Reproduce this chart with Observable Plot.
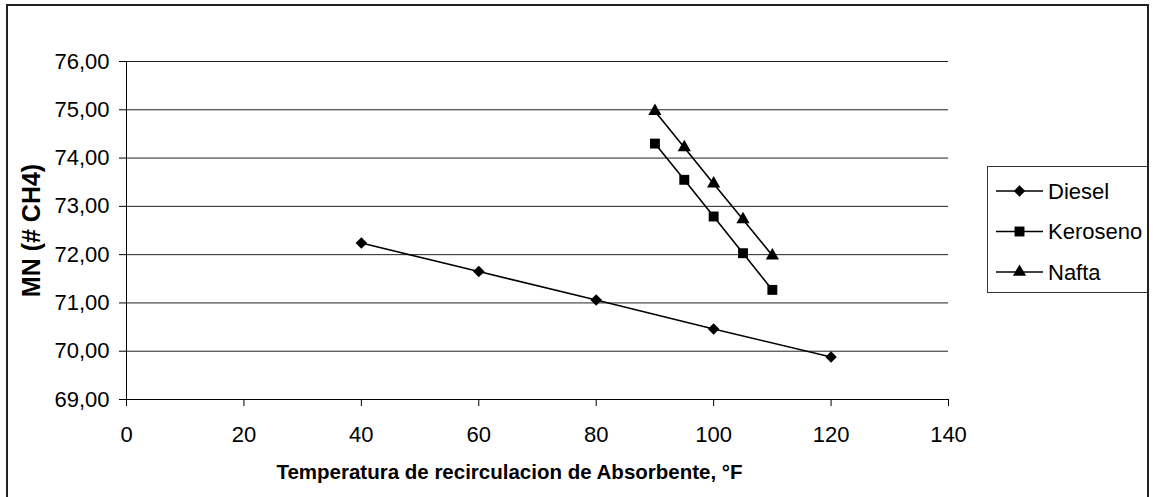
<!DOCTYPE html>
<html><head><meta charset="utf-8">
<script src="https://cdn.jsdelivr.net/npm/d3@7"></script>
<script src="https://cdn.jsdelivr.net/npm/@observablehq/plot@0.6"></script>
<style>
html,body{margin:0;padding:0;background:#fff;}
#wrap{position:relative;width:1153px;height:497px;overflow:hidden;}
#wrap svg{position:absolute;left:0;top:0;}
#border{position:absolute;left:6px;top:4px;width:1143px;height:540px;border:2px solid #222;box-sizing:border-box;pointer-events:none;}
</style></head><body><div id="wrap"><div id="border"></div></div>
<script>
const seriesNames = ["Diesel", "Keroseno", "Nafta"];
const seriesSymbols = ["diamond2", "square", "triangle"];
const seriesSizes = [5.2, 5.6, 4.9];

const dieselX = [40, 60, 80, 100, 120];
const dieselY = [72.24, 71.65, 71.06, 70.46, 69.88];
const keroX = [90, 95, 100, 105, 110];
const keroY = [74.30, 73.55, 72.79, 72.03, 71.27];
const naftaX = [90, 95, 100, 105, 110];
const naftaY = [74.97, 74.22, 73.47, 72.73, 71.98];

const yTicks = [69, 70, 71, 72, 73, 74, 75, 76];
const xTicks = [0, 20, 40, 60, 80, 100, 120, 140];
const xTitle = "Temperatura de recirculacion de Absorbente, °F";
const yTitle = "MN (# CH4)";

const seriesX = [dieselX, keroX, naftaX];
const seriesY = [dieselY, keroY, naftaY];
const data = seriesNames.flatMap((name, i) =>
  seriesX[i].map((x, j) => ({series: name, x, y: seriesY[i][j]})));

const font = '"Liberation Sans", Arial, sans-serif';
const fmt = d => d.toFixed(2).replace(".", ",");

const chart = Plot.plot({
  width: 1153, height: 497,
  marginLeft: 126, marginRight: 205, marginTop: 61, marginBottom: 98,
  style: {fontFamily: font, fontSize: "22px", color: "#000", background: "#fff"},
  x: {domain: [0, 140]},
  y: {domain: [69, 76]},
  symbol: {domain: seriesNames, range: seriesSymbols},
  marks: [
    Plot.ruleY(yTicks, {stroke: "#222", strokeWidth: 1}),
    Plot.axisY({ticks: yTicks, tickSize: 7, tickPadding: 10, tickFormat: fmt, fontSize: 22, label: null, stroke: "#000"}),
    Plot.axisX({ticks: xTicks, tickSize: 7, tickPadding: 20, fontSize: 22, label: null, stroke: "#000"}),
    Plot.ruleX([0], {y1: 69, y2: 76, stroke: "#000"}),
    Plot.ruleY([69], {stroke: "#000"}),
    Plot.line(data, {x: "x", y: "y", z: "series", stroke: "#000", strokeWidth: 1.6}),
    ...seriesNames.map((name, i) => Plot.dot(data, {
      filter: d => d.series === name, x: "x", y: "y",
      symbol: "series", fill: "#000", stroke: "none", r: seriesSizes[i]
    })),
    Plot.text([xTitle], {text: d => d, frameAnchor: "bottom", textAnchor: "middle", dy: 79, dx: -28, fontWeight: "bold", fontSize: 20.5, fill: "#000"}),
    Plot.text([yTitle], {text: d => d, frameAnchor: "left", textAnchor: "middle", dx: -95, rotate: -90, fontWeight: "bold", fontSize: 25, fill: "#000"})
  ]
});

document.getElementById("wrap").prepend(chart);

// legend
const svg = d3.select(chart);
const lg = svg.append("g").attr("font-family", font).attr("font-size", 22).attr("text-anchor", "start");
lg.append("rect").attr("x", 987.5).attr("y", 166.5).attr("width", 161).attr("height", 126)
  .attr("fill", "#fff").attr("stroke", "#333").attr("stroke-width", 1);
const d3Sym = {diamond2: d3.symbolDiamond2, square: d3.symbolSquare, triangle: d3.symbolTriangle};
seriesNames.forEach((name, i) => {
  const cy = 191 + i * 40.5;
  lg.append("line").attr("x1", 996).attr("x2", 1043).attr("y1", cy).attr("y2", cy)
    .attr("stroke", "#000").attr("stroke-width", 1.6);
  lg.append("path")
    .attr("d", d3.symbol(d3Sym[seriesSymbols[i]], Math.PI * seriesSizes[i] ** 2)())
    .attr("transform", `translate(1019.5,${cy})`).attr("fill", "#000");
  lg.append("text").attr("x", 1048).attr("y", cy).attr("dy", "0.35em").attr("text-anchor", "start").attr("fill", "#000").text(name);
});
</script>
</body></html>
